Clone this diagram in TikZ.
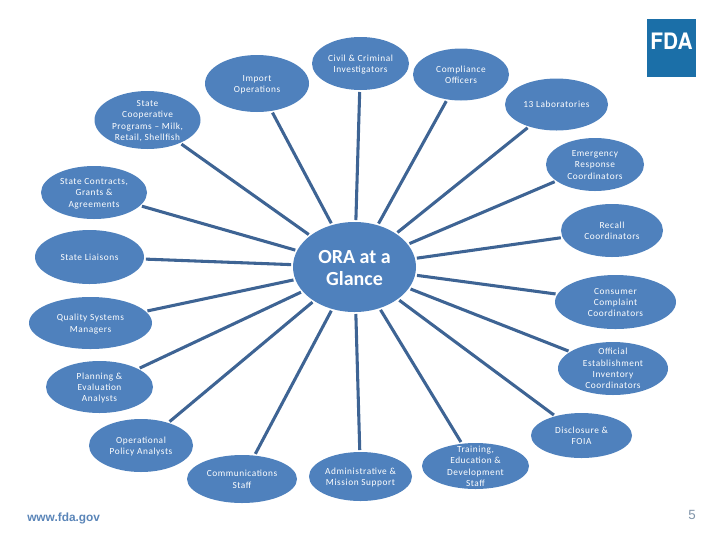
\documentclass[tikz,border=0pt]{standalone}
\usepackage{fontspec}
\setmainfont[LetterSpace=6]{Carlito}
\newfontfamily\hubfont[BoldFont=Carlito Bold]{Carlito}
\newfontfamily\footfont{Liberation Sans}
\newfontfamily\logofont{TeX Gyre Heros}
\usetikzlibrary{shapes.geometric}
\definecolor{blobblue}{HTML}{4F81BD}
\definecolor{spokeblue}{HTML}{3E6494}
\definecolor{logoblue}{HTML}{1B6FA8}
\definecolor{urlblue}{HTML}{5A85B8}
\definecolor{pagegrey}{HTML}{7F93A8}
\newcommand{\lbl}[1]{\smash{\makebox[0pt]{\raisebox{-.37em}{\begin{tabular}{@{}c@{}}#1\end{tabular}}}}}
\tikzset{
  blob/.style 2 args={ellipse,fill=blobblue,draw=none,inner sep=0pt,outer sep=0pt,
    minimum width=1.5pt*#1,minimum height=1.5pt*#2,text=white,
    font=\fontsize{7}{8.5}\selectfont},
  hubblob/.style 2 args={blob={#1}{#2},font=\hubfont\bfseries\fontsize{15}{16.5}\selectfont},
  spoke/.style={draw=spokeblue,line width=2.3pt,shorten <=1.5pt,shorten >=1.5pt}
}
\begin{document}
\begin{tikzpicture}[x=0.75pt,y=-0.75pt]
\useasboundingbox (0,0) rectangle (720,540);
\node[hubblob={61.5}{45}] (hub) at (354.5,267) {\lbl{ORA at a\\Glance}};
\node[blob={52}{28.5}] (import) at (257,83.5) {\lbl{Import\\Operations}};
\node[blob={53}{29}] (coop) at (147.5,120) {\lbl{State\\Cooperative\\Programs -- Milk,\\Retail, Shellfish}};
\node[blob={53}{26.5}] (contracts) at (94,192.5) {\lbl{State Contracts,\\Grants \&\\Agreements}};
\node[blob={54.5}{27}] (liaisons) at (89.5,257) {\lbl{State Liaisons}};
\node[blob={48.5}{26.5}] (civil) at (360.5,63.5) {\lbl{Civil \& Criminal\\Investigators}};
\node[blob={48}{26}] (compliance) at (461,74.5) {\lbl{Compliance\\Officers}};
\node[blob={51.5}{26}] (labs) at (556.5,104.5) {\lbl{13 Laboratories}};
\node[blob={49}{26.5}] (emergency) at (595,164.5) {\lbl{Emergency\\Response\\Coordinators}};
\node[blob={51}{26.5}] (recall) at (612,230.5) {\lbl{Recall\\Coordinators}};
\node[blob={60.5}{27}] (consumer) at (615.5,302) {\lbl{Consumer\\Complaint\\Coordinators}};
\node[blob={55}{26.5}] (official) at (613,368.5) {\lbl{Official\\Establishment\\Inventory\\Coordinators}};
\node[blob={50.5}{22.5}] (disclosure) at (581.5,435.5) {\lbl{Disclosure \&\\FOIA}};
\node[blob={53.5}{23}] (training) at (475.5,466) {\lbl{Training,\\Education \&\\Development\\Staff}};
\node[blob={51.5}{24.5}] (admin) at (360.5,476.5) {\lbl{Administrative \&\\Mission Support}};
\node[blob={55}{24}] (comms) at (242,479) {\lbl{Communications\\Staff}};
\node[blob={52}{26.5}] (operational) at (141,445.5) {\lbl{Operational\\Policy Analysts}};
\node[blob={53.5}{26}] (planning) at (99.5,387) {\lbl{Planning \&\\Evaluation\\Analysts}};
\node[blob={61.5}{26}] (quality) at (90.5,323) {\lbl{Quality Systems\\Managers}};
\foreach \n in {import,coop,contracts,liaisons,civil,compliance,labs,emergency,recall,consumer,official,disclosure,training,admin,comms,operational,planning,quality}
  \draw[spoke] (hub) -- (\n);
\node[fill=logoblue,inner sep=0pt,minimum width=36.75pt,minimum height=43.5pt,text=white,
  font=\logofont\bfseries\fontsize{17}{17}\selectfont] (logo) at (671.5,48) {\raisebox{9.5pt}{\scalebox{0.92}[1]{FDA}}};
\node[text=urlblue,inner sep=0pt,anchor=west,font=\footfont\bfseries\fontsize{8.9}{10}\selectfont] (url) at (27,518) {www.fda.gov};
\node[text=pagegrey,inner sep=0pt,font=\footfont\fontsize{10}{12}\selectfont] (page) at (692,515) {5};
\end{tikzpicture}
\end{document}
